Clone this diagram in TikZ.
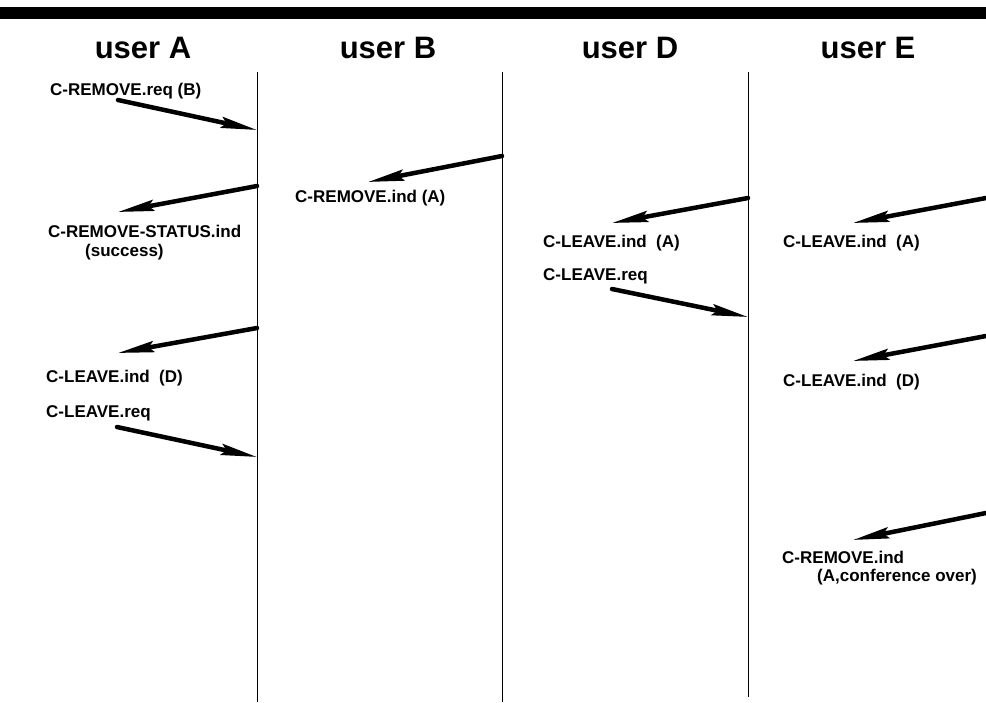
\documentclass[tikz,border=0pt]{standalone}
\usepackage{fontspec}
\setmainfont{Liberation Sans}
\usetikzlibrary{arrows.meta}
\begin{document}
\begin{tikzpicture}[x=1pt,y=-1pt,
  header/.style={font=\fontsize{31}{31}\selectfont\bfseries, anchor=base, inner sep=0pt},
  msg/.style={font=\fontsize{17}{17}\selectfont\bfseries, anchor=base west, inner sep=0pt},
  lifeline/.style={line width=1pt},
  signal/.style={line width=4.5pt, line cap=round,
    -{Stealth[length=36pt,width=11pt,inset=5pt]}}]
\useasboundingbox (0,0) rectangle (986,702);
% heavy rule across the top
\fill (0,7) rectangle (986,19);

% participants
\node[header] (hA) at (143,58) {user A};
\node[header] (hB) at (388,58) {user B};
\node[header] (hD) at (630,58) {user D};
\node[header] (hE) at (868,58) {user E};

% lifelines
\coordinate (Atop) at (257,72);  \coordinate (Abot) at (257,702);
\coordinate (Btop) at (502,72);  \coordinate (Bbot) at (502,702);
\coordinate (Dtop) at (748,72);  \coordinate (Dbot) at (748,697);
\draw[lifeline] (Atop) -- (Abot);
\draw[lifeline] (Btop) -- (Bbot);
\draw[lifeline] (Dtop) -- (Dbot);

% message end points
\coordinate (a1s) at (118,100);  \coordinate (a1e) at (257,130);
\coordinate (a2s) at (257,186);  \coordinate (a2e) at (118,212);
\coordinate (b1s) at (502,156);  \coordinate (b1e) at (368,182);
\coordinate (d1s) at (748,198);  \coordinate (d1e) at (612,223);
\coordinate (d2s) at (612,289);  \coordinate (d2e) at (748,317);
\coordinate (e1s) at (986,198);  \coordinate (e1e) at (853,223);
\coordinate (a3s) at (257,328);  \coordinate (a3e) at (118,353);
\coordinate (a4s) at (117,427);  \coordinate (a4e) at (257,457);
\coordinate (e2s) at (986,336);  \coordinate (e2e) at (853,361);
\coordinate (e3s) at (986,513);  \coordinate (e3e) at (853,540);

\draw[signal] (a1s) -- (a1e);
\draw[signal] (a2s) -- (a2e);
\draw[signal] (b1s) -- (b1e);
\draw[signal] (d1s) -- (d1e);
\draw[signal] (d2s) -- (d2e);
\draw[signal] (e1s) -- (e1e);
\draw[signal] (a3s) -- (a3e);
\draw[signal] (a4s) -- (a4e);
\draw[signal] (e2s) -- (e2e);
\draw[signal] (e3s) -- (e3e);

% primitive names
\node[msg] (m1) at (50,95) {C-REMOVE.req (B)};
\node[msg] (m2) at (48,237) {C-REMOVE-STATUS.ind};
\node[msg] (m2b) at (85,256) {(success)};
\node[msg] (m3) at (295,202) {C-REMOVE.ind (A)};
\node[msg] (m4) at (543,247) {C-LEAVE.ind\ \ (A)};
\node[msg] (m5) at (543,280) {C-LEAVE.req};
\node[msg] (m6) at (783,247) {C-LEAVE.ind\ \ (A)};
\node[msg] (m7) at (46,382) {C-LEAVE.ind\ \ (D)};
\node[msg] (m8) at (46,417) {C-LEAVE.req};
\node[msg] (m9) at (783,386) {C-LEAVE.ind\ \ (D)};
\node[msg] (m10) at (782,563) {C-REMOVE.ind};
\node[msg] (m10b) at (817,581) {(A,conference over)};
\end{tikzpicture}
\end{document}
